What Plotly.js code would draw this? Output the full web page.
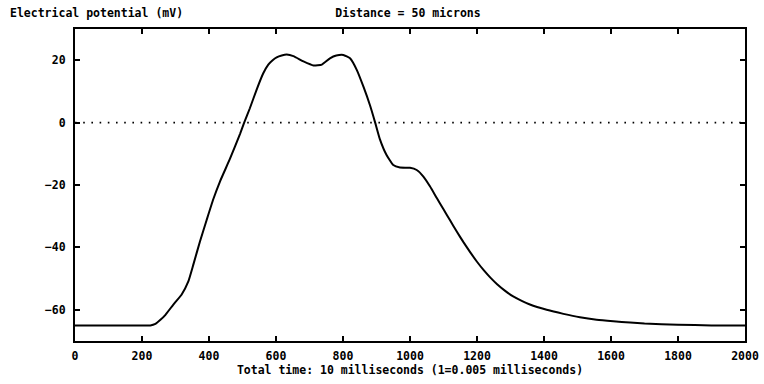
<!DOCTYPE html>
<html>
<head>
<meta charset="utf-8">
<script src="https://cdn.plot.ly/plotly-3.0.1.min.js"></script>
<style>
  html, body { margin: 0; padding: 0; background: #fff; }
  #chart { width: 764px; height: 384px; }
</style>
</head>
<body>
<div id="chart"></div>
<script>
// Time steps (1 = 0.005 ms)
const time = [0, 100, 200, 225, 240, 255, 270, 293, 318, 338, 353, 373, 393, 413, 433, 463, 493, 505, 522, 542, 562, 577, 590, 602, 617, 632, 652, 682, 712, 737, 761, 780, 801, 821, 841, 861, 881, 896, 910, 930, 950, 970, 1000, 1020, 1040, 1060, 1080, 1100, 1120, 1140, 1160, 1180, 1200, 1220, 1240, 1260, 1285, 1308, 1335, 1358, 1408, 1458, 1507, 1557, 1607, 1657, 1700, 1800, 1900, 2000];
// Electrical potential (mV)
const potential = [-65, -65, -65, -65, -64.5, -63.2, -61.6, -58.4, -55.2, -51, -45.6, -38.1, -31.2, -24.5, -18.8, -11.5, -3.5, 0, 4.6, 10.5, 15.8, 18.6, 20, 20.9, 21.5, 21.8, 21.3, 19.6, 18.3, 18.6, 20.6, 21.5, 21.7, 20.6, 16.9, 11.5, 5.4, 0, -5.3, -10.4, -13.6, -14.4, -14.5, -15.2, -17.3, -20.5, -24.2, -27.8, -31.4, -35, -38.4, -41.6, -44.6, -47.3, -49.7, -51.8, -54, -55.7, -57.2, -58.3, -60, -61.3, -62.4, -63.2, -63.7, -64.1, -64.4, -64.8, -65, -65];
// Reference zero line
const zeroX = [0, 2000];
const zeroY = [0, 0];

const titleText = 'Distance = 50 microns';
const yLabel = 'Electrical potential (mV)';
const xLabel = 'Total time: 10 milliseconds (1=0.005 milliseconds)';

const traces = [
  {
    x: zeroX, y: zeroY, mode: 'lines', type: 'scatter',
    line: { color: '#000', width: 1.6, dash: '1.6px,6.6px' },
    hoverinfo: 'skip', showlegend: false
  },
  {
    x: time, y: potential, mode: 'lines', type: 'scatter',
    line: { color: '#000', width: 2, shape: 'spline', smoothing: 0.4 },
    showlegend: false
  }
];

const font = { family: 'DejaVu Sans Mono, monospace', size: 11.5, color: '#000', weight: 'bold' };

const layout = {
  width: 764, height: 384,
  margin: { l: 75, r: 19, t: 29, b: 43, pad: 0 },
  paper_bgcolor: '#fff', plot_bgcolor: '#fff',
  font: font,
  showlegend: false,
  title: { text: titleText, x: 408 / 764, xanchor: 'center', y: 1 - 13 / 384, yanchor: 'middle', font: font },
  xaxis: {
    range: [0, 2000], tick0: 0, dtick: 200,
    ticks: 'inside', ticklen: 5, tickwidth: 2, tickcolor: '#000',
    showline: true, linewidth: 2, linecolor: '#000', mirror: 'allticks',
    showgrid: false, zeroline: false,
    tickfont: font, ticklabelstandoff: 3,
    title: { text: xLabel, font: font, standoff: 0 }
  },
  yaxis: {
    range: [-70, 30], tick0: 0, dtick: 20,
    ticks: 'inside', ticklen: 5, tickwidth: 2, tickcolor: '#000',
    showline: true, linewidth: 2, linecolor: '#000', mirror: 'allticks',
    showgrid: false, zeroline: false,
    tickfont: font, ticklabelstandoff: 5
  },
  annotations: [
    { text: yLabel, xref: 'paper', yref: 'paper', x: (8 - 75) / 670, y: (341 - 13) / 312,
      xanchor: 'left', yanchor: 'middle', showarrow: false, font: font }
  ]
};

Plotly.newPlot('chart', traces, layout, { displayModeBar: false, staticPlot: true });
</script>
</body>
</html>
